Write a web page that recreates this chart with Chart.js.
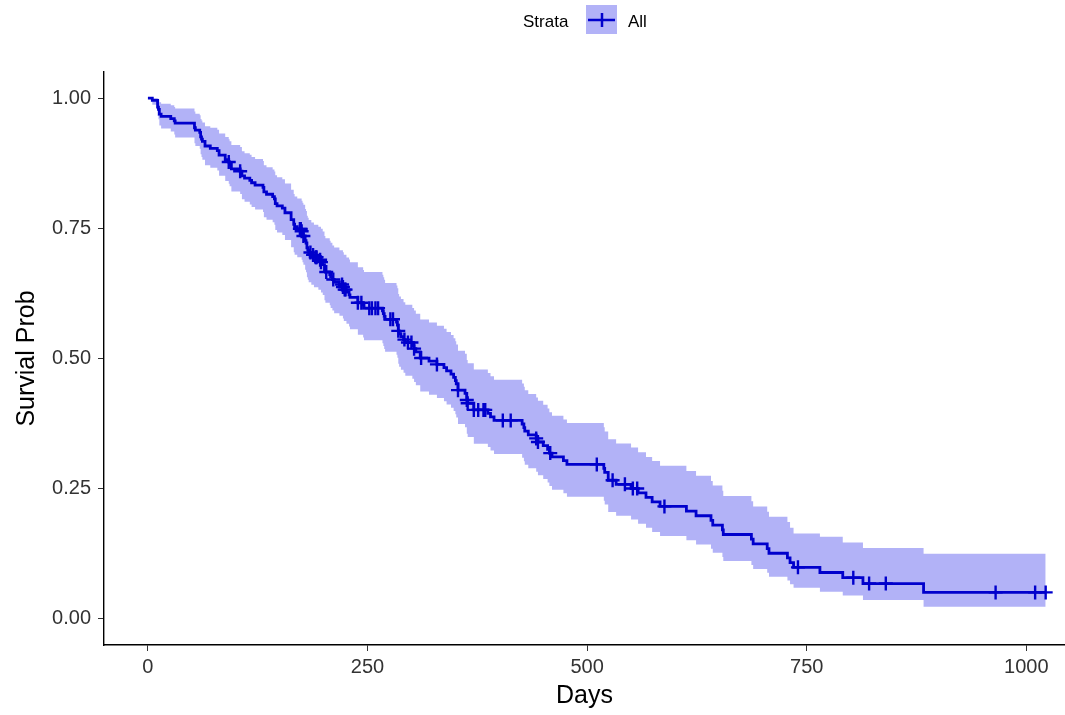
<!DOCTYPE html>
<html>
<head>
<meta charset="utf-8">
<title>Survival curve</title>
<script src="https://cdn.jsdelivr.net/npm/chart.js@4/dist/chart.umd.min.js"></script>
<style>
  body { margin: 0; background: #fff; }
  #wrap { width: 1065px; height: 715px; }
</style>
</head>
<body>
<div id="wrap"><canvas id="kmChart" width="1065" height="715"></canvas></div>
<script>
// Kaplan-Meier estimate: step times (days) and survival after each step
const eventDays = [0, 5, 11, 12, 13, 15, 26, 30, 31,
    53, 54, 59, 60, 61, 62, 65, 71, 79, 81,
    88, 92, 93, 95, 105, 107, 110, 116, 118, 122,
    131, 132, 135, 142, 144, 145, 147, 153, 156, 163,
    166, 167, 170, 175, 176, 177, 179, 180, 181, 182,
    183, 186, 189, 194, 197, 199, 201, 202, 207, 208,
    210, 212, 218, 222, 223, 226, 229, 230, 239, 245,
    246, 267, 268, 269, 270, 283, 284, 285, 286, 288,
    291, 293, 301, 303, 305, 310, 320, 329, 337, 340,
    345, 348, 350, 351, 353, 361, 363, 364, 371, 387,
    390, 394, 426, 428, 429, 433, 442, 444, 450, 455,
    457, 460, 473, 477, 519, 520, 524, 533, 550, 558,
    567, 574, 583, 613, 624, 641, 643, 654, 655, 687,
    689, 705, 707, 728, 731, 735, 765, 791, 814, 883,
    1022];

const survProb = [1, 0.9956, 0.9825, 0.9781, 0.9693, 0.9649, 0.9605, 0.9561, 0.9518,
    0.9430, 0.9386, 0.9342, 0.9254, 0.9211, 0.9167, 0.9079, 0.9035, 0.8991, 0.8904,
    0.8816, 0.8772, 0.8728, 0.8640, 0.8596, 0.8507, 0.8463, 0.8418, 0.8374, 0.8330,
    0.8285, 0.8197, 0.8153, 0.8108, 0.8064, 0.7975, 0.7931, 0.7887, 0.7798, 0.7665,
    0.7577, 0.7532, 0.7488, 0.7443, 0.7398, 0.7353, 0.7262, 0.7217, 0.7126, 0.7081,
    0.7035, 0.6989, 0.6943, 0.6897, 0.6850, 0.6803, 0.6708, 0.6661, 0.6613, 0.6565,
    0.6517, 0.6469, 0.6421, 0.6372, 0.6323, 0.6273, 0.6223, 0.6172, 0.6070, 0.6019,
    0.5967, 0.5913, 0.5860, 0.5807, 0.5753, 0.5698, 0.5642, 0.5531, 0.5475, 0.5419,
    0.5363, 0.5306, 0.5248, 0.5189, 0.5129, 0.5009, 0.4948, 0.4887, 0.4825, 0.4763,
    0.4701, 0.4639, 0.4577, 0.4515, 0.4392, 0.4329, 0.4204, 0.4141, 0.4013, 0.3946,
    0.3879, 0.3812, 0.3743, 0.3674, 0.3604, 0.3535, 0.3466, 0.3397, 0.3326, 0.3255,
    0.3184, 0.3112, 0.3040, 0.2967, 0.2891, 0.2815, 0.2663, 0.2585, 0.2504, 0.2421,
    0.2334, 0.2248, 0.2161, 0.2071, 0.1981, 0.1891, 0.1801, 0.1711, 0.1621, 0.1531,
    0.1441, 0.1351, 0.1261, 0.1171, 0.1081, 0.0991, 0.0892, 0.0793, 0.0680, 0.0510,
    0.0510];

// 95% confidence band, same step times
const upperCI = [1, 1.000, 0.999, 0.997, 0.992, 0.989, 0.986, 0.983, 0.980,
    0.974, 0.970, 0.967, 0.960, 0.957, 0.953, 0.946, 0.943, 0.939, 0.932,
    0.925, 0.921, 0.917, 0.910, 0.906, 0.898, 0.894, 0.891, 0.887, 0.883,
    0.879, 0.871, 0.867, 0.863, 0.859, 0.852, 0.848, 0.844, 0.836, 0.824,
    0.816, 0.811, 0.807, 0.803, 0.799, 0.795, 0.787, 0.783, 0.774, 0.770,
    0.766, 0.761, 0.757, 0.753, 0.749, 0.744, 0.735, 0.731, 0.726, 0.722,
    0.717, 0.713, 0.708, 0.704, 0.699, 0.694, 0.690, 0.685, 0.675, 0.670,
    0.666, 0.661, 0.656, 0.651, 0.645, 0.640, 0.635, 0.624, 0.619, 0.614,
    0.608, 0.603, 0.597, 0.592, 0.586, 0.575, 0.569, 0.563, 0.557, 0.551,
    0.545, 0.539, 0.533, 0.527, 0.515, 0.509, 0.497, 0.491, 0.479, 0.472,
    0.466, 0.459, 0.452, 0.446, 0.439, 0.432, 0.425, 0.419, 0.411, 0.404,
    0.397, 0.390, 0.383, 0.376, 0.368, 0.360, 0.345, 0.337, 0.329, 0.320,
    0.311, 0.303, 0.294, 0.284, 0.275, 0.265, 0.256, 0.246, 0.236, 0.226,
    0.216, 0.206, 0.196, 0.186, 0.175, 0.164, 0.158, 0.147, 0.136, 0.125,
    0.125];

const lowerCI = [1, 0.9871, 0.9656, 0.9592, 0.9472, 0.9413, 0.9356, 0.9299, 0.9243,
    0.9134, 0.9079, 0.9026, 0.8920, 0.8867, 0.8815, 0.8711, 0.8660, 0.8609, 0.8507,
    0.8406, 0.8356, 0.8306, 0.8206, 0.8156, 0.8056, 0.8007, 0.7957, 0.7908, 0.7859,
    0.7810, 0.7712, 0.7663, 0.7615, 0.7566, 0.7469, 0.7421, 0.7373, 0.7277, 0.7134,
    0.7039, 0.6991, 0.6944, 0.6896, 0.6848, 0.6800, 0.6704, 0.6655, 0.6559, 0.6511,
    0.6464, 0.6416, 0.6367, 0.6318, 0.6269, 0.6219, 0.6120, 0.6071, 0.6020, 0.5970,
    0.5920, 0.5870, 0.5820, 0.5769, 0.5718, 0.5666, 0.5614, 0.5562, 0.5456, 0.5402,
    0.5349, 0.5294, 0.5238, 0.5183, 0.5128, 0.5070, 0.5013, 0.4899, 0.4841, 0.4784,
    0.4727, 0.4669, 0.4609, 0.4549, 0.4488, 0.4365, 0.4303, 0.4241, 0.4178, 0.4115,
    0.4053, 0.3990, 0.3928, 0.3866, 0.3742, 0.3679, 0.3554, 0.3492, 0.3365, 0.3299,
    0.3232, 0.3166, 0.3097, 0.3028, 0.2960, 0.2892, 0.2825, 0.2757, 0.2689, 0.2620,
    0.2552, 0.2482, 0.2413, 0.2344, 0.2271, 0.2199, 0.2055, 0.1982, 0.1907, 0.1829,
    0.1750, 0.1670, 0.1591, 0.1509, 0.1429, 0.1349, 0.1270, 0.1191, 0.1113, 0.1036,
    0.0960, 0.0885, 0.0811, 0.0738, 0.0667, 0.0597, 0.0521, 0.0448, 0.0364, 0.0236,
    0.0236];

// censored observations (the "+" marks)
const censorDays = [92, 105, 173, 174, 175, 177, 185, 188, 191, 192, 196, 197,
    203, 211, 221, 222, 224, 225, 239, 243, 252, 255, 259, 262, 276, 279, 285,
    292, 296, 300, 303, 311, 329, 353, 363, 364, 371, 376, 382, 384, 404, 413,
    442, 444, 458, 511, 529, 543, 552, 557, 588, 740, 803, 821, 840, 965, 1010, 1022];

const xTickValues = [0, 250, 500, 750, 1000];
const yTickValues = [0, 0.25, 0.5, 0.75, 1];

const lineColor = '#0000cc';
const bandColor = 'rgb(178, 178, 247)';
const fontFamily = '"Liberation Sans", Arial, sans-serif';

// survival value at a given day (last step at or before it)
function survAt(day) {
    let s = survProb[0];
    for (let i = 0; i < eventDays.length; i++) {
        if (eventDays[i] <= day) s = survProb[i];
    }
    return s;
}

const toPoints = (xs, ys) => xs.map((x, i) => ({ x: x, y: ys[i] }));

// legend drawn at the top like the ggplot one: "Strata  [+]  All"
const strataLegend = {
    id: 'strataLegend',
    afterDraw(chart) {
        const ctx = chart.ctx;
        ctx.save();
        ctx.font = '17px ' + fontFamily;
        ctx.fillStyle = '#000';
        ctx.textBaseline = 'alphabetic';
        ctx.textAlign = 'left';
        ctx.fillText('Strata', 523, 27);

        ctx.fillStyle = bandColor;
        ctx.fillRect(586, 5, 31, 29);

        ctx.strokeStyle = lineColor;
        ctx.lineWidth = 2.5;
        ctx.beginPath();
        ctx.moveTo(588, 20);
        ctx.lineTo(615, 20);
        ctx.moveTo(602, 13);
        ctx.lineTo(602, 27);
        ctx.stroke();

        ctx.fillStyle = '#000';
        ctx.fillText('All', 628, 27);
        ctx.restore();
    }
};

const ctx = document.getElementById('kmChart').getContext('2d');

const kmChart = new Chart(ctx, {
    type: 'scatter',
    data: {
        datasets: [
            {
                label: 'upper',
                data: toPoints(eventDays, upperCI),
                showLine: true,
                stepped: true,
                borderWidth: 0,
                pointRadius: 0,
                backgroundColor: bandColor,
                fill: '+1',
                order: 3
            },
            {
                label: 'lower',
                data: toPoints(eventDays, lowerCI),
                showLine: true,
                stepped: true,
                borderWidth: 0,
                pointRadius: 0,
                fill: false,
                order: 2
            },
            {
                label: 'All',
                data: toPoints(eventDays, survProb),
                showLine: true,
                stepped: true,
                borderColor: lineColor,
                borderWidth: 2.8,
                pointRadius: 0,
                fill: false,
                order: 1
            },
            {
                label: 'censored',
                data: censorDays.map(d => ({ x: d, y: survAt(d) })),
                showLine: false,
                pointStyle: 'cross',
                pointRadius: 7,
                borderColor: lineColor,
                borderWidth: 2.4,
                order: 0
            }
        ]
    },
    options: {
        responsive: false,
        animation: false,
        layout: {
            autoPadding: false,
            padding: { top: 72, right: 0, bottom: 0, left: 0 }
        },
        scales: {
            x: {
                type: 'linear',
                min: -50,
                max: 1044,
                afterBuildTicks: scale => { scale.ticks = xTickValues.map(v => ({ value: v })); },
                afterFit: scale => {
                    scale.height = 70;
                    // let the axis run to the right edge like the original
                    scale.paddingLeft = 0;
                    scale.paddingRight = 0;
                },
                ticks: {
                    color: '#333',
                    padding: 4,
                    maxRotation: 0,
                    font: { family: fontFamily, size: 20 },
                    callback: v => String(v)
                },
                grid: {
                    drawOnChartArea: false,
                    drawTicks: true,
                    tickLength: 6,
                    color: '#333'
                },
                border: { display: true, color: '#000', width: 1.4 },
                title: {
                    display: true,
                    text: 'Days',
                    color: '#000',
                    font: { family: fontFamily, size: 25 },
                    padding: { top: 2, bottom: 4 }
                }
            },
            y: {
                type: 'linear',
                min: -0.05,
                max: 1.05,
                afterBuildTicks: scale => { scale.ticks = yTickValues.map(v => ({ value: v })); },
                afterFit: scale => { scale.width = 104; },
                ticks: {
                    color: '#333',
                    padding: 7,
                    font: { family: fontFamily, size: 20 },
                    callback: v => Number(v).toFixed(2)
                },
                grid: {
                    drawOnChartArea: false,
                    drawTicks: true,
                    tickLength: 6,
                    color: '#333'
                },
                border: { display: true, color: '#000', width: 1.4 },
                title: {
                    display: true,
                    text: 'Survial Prob',
                    color: '#000',
                    font: { family: fontFamily, size: 25 },
                    padding: { top: 12, bottom: 2 }
                }
            }
        },
        plugins: {
            legend: { display: false },
            tooltip: { enabled: false }
        }
    },
    plugins: [strataLegend]
});
</script>
</body>
</html>
